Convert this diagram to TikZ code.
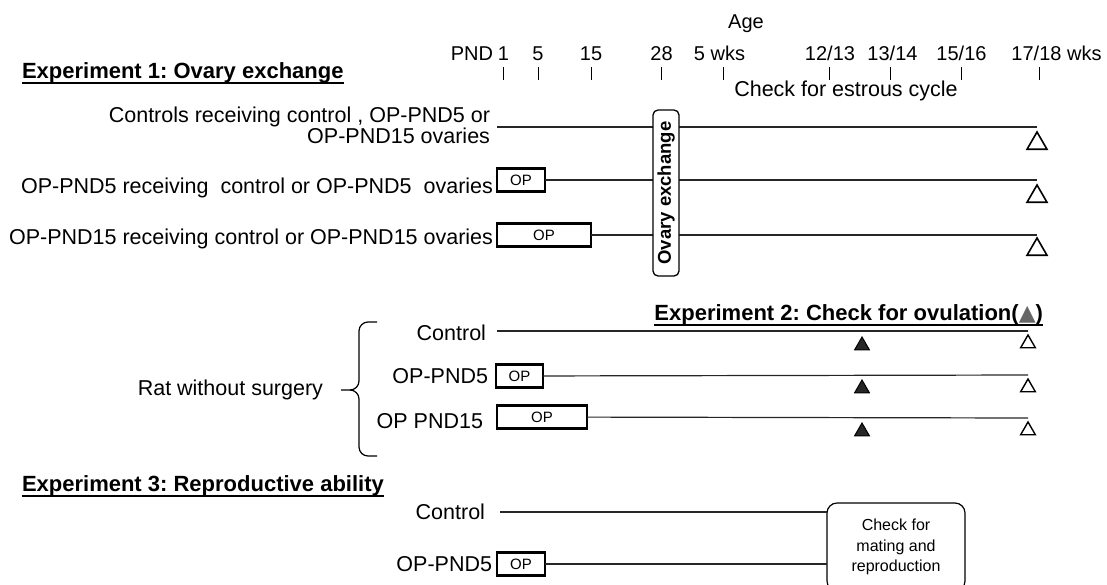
\documentclass[tikz,border=0pt]{standalone}
\usepackage{fontspec}
\setmainfont{Liberation Sans}
\newfontfamily\symfont{DejaVu Sans}
\usetikzlibrary{positioning,shapes.geometric}
\frenchspacing

\begin{document}
\begin{tikzpicture}[
    x=1pt, y=-1pt,
    every node/.style={inner sep=0pt, outer sep=0pt},
    lbl/.style={font=\fontsize{21.5}{21}\selectfont, anchor=base east},
    axislbl/.style={font=\fontsize{20}{24}\selectfont, anchor=base},
    heading/.style={font=\fontsize{22}{26}\selectfont\bfseries},
    uline/.style={line width=1.6pt},
    opbox/.style={rectangle, draw, line width=2.2pt, minimum height=23pt, anchor=west, font=\fontsize{15}{18}\selectfont},
    roundbox/.style={rectangle, draw, fill=white, align=center},
    tline/.style={line width=1.2pt, draw=black!85},
    tick/.style={line width=1pt},
    opentri/.style={regular polygon, regular polygon sides=3, draw, line width=1.6pt, anchor=north},
    filltri/.style={opentri, fill=black!85, line width=1pt},
    brc/.style={line width=1.2pt, rounded corners=9pt}
]
% Zeitachse und die drei Versuchsreihen
\useasboundingbox (0,0) rectangle (1107,584);

\node[font=\fontsize{20}{24}\selectfont] (age) at (746,24) {Age};
\node[axislbl, anchor=base east] (pnd) at (493,60) {PND};
\node[axislbl] (a1) at (503.5,60) {1};
\node[axislbl] (a5) at (538,60) {5};
\node[axislbl] (a15) at (591,60) {15};
\node[axislbl] (a28) at (661.5,60) {28};
\node[axislbl] (w5) at (719.5,60) {5 wks};
\node[axislbl] (w12) at (830,60) {12/13};
\node[axislbl] (w13) at (892.5,60) {13/14};
\node[axislbl] (w15) at (961.5,60) {15/16};
\node[axislbl] (w17) at (1056.5,60) {17/18 wks};
\draw[tick] (503,67) -- (503,80) (538,67) -- (538,80) (591,67) -- (591,80)
    (661,67) -- (661,80) (723,67) -- (723,80) (829,67) -- (829,80)
    (890,67) -- (890,80) (961,67) -- (961,80) (1039,67) -- (1039,80);

% Experiment 1
\node[heading, anchor=base west] (ex1) at (22,78) {Experiment 1: Ovary exchange};
\draw[uline] ([yshift=-0.5pt]ex1.south west) -- ([yshift=-0.5pt]ex1.south east);
\node[lbl, anchor=base] (est) at (846,96) {Check for estrous cycle};

\node[lbl, align=right, anchor=east] (r1) at (490,125) {Controls receiving control , OP-PND5 or\\OP-PND15 ovaries};
\coordinate (s1) at (497,127);
\coordinate (e1) at (1037,127);
\draw[tline] (s1) -- (e1);
\node[opentri, minimum size=23pt] (t1) at (1037,132) {};

\node[opbox, minimum width=48pt] (op2) at (497,180) {OP};
\node[lbl] (r2) at (493,193) {OP-PND5 receiving~ control or OP-PND5~ ovaries};
\coordinate (e2) at (1037,180);
\draw[tline] (op2) -- (e2);
\node[opentri, minimum size=23pt] (t2) at (1037,185) {};

\node[opbox, minimum width=94pt] (op3) at (497,235) {OP};
\node[lbl] (r3) at (493,244) {OP-PND15 receiving control or OP-PND15 ovaries};
\coordinate (e3) at (1037,235);
\draw[tline] (op3) -- (e3);
\node[opentri, minimum size=23pt] (t3) at (1037,238) {};

\node[roundbox, rotate=90, line width=1.3pt, rounded corners=5pt, minimum width=166pt, minimum height=26pt,
    font=\fontsize{18.5}{20}\selectfont\bfseries] (ox) at (666,193) {Ovary exchange};

% Experiment 2
\node[heading, anchor=base east] (ex2) at (1043,320) {Experiment 2: Check for ovulation(\textcolor{black!60}{\symfont ▲})};
\draw[uline] ([yshift=-0.5pt]ex2.south west) -- ([yshift=-0.5pt]ex2.south east);

\node[lbl] (c2) at (486,340) {Control};
\coordinate (s4) at (497,331);
\coordinate (e4) at (1028,331);
\draw[tline] (s4) -- (e4);
\node[filltri, minimum size=17pt] (f4) at (862,337) {};
\node[opentri, minimum size=17pt, line width=1.4pt] (t4) at (1028,335) {};

\node[opbox, minimum width=47pt] (op5) at (496,376) {OP};
\node[lbl] (r5) at (488,383) {OP-PND5};
\coordinate (e5) at (1028,375);
\draw[tline] (op5) -- (e5);
\node[filltri, minimum size=17pt] (f5) at (862,380) {};
\node[opentri, minimum size=17pt, line width=1.4pt] (t5) at (1028,379) {};

\node[opbox, minimum width=90pt] (op6) at (497,417) {OP};
\node[lbl] (r6) at (483,428) {OP PND15};
\coordinate (e6) at (1028,418);
\draw[tline] (op6) -- (e6);
\node[filltri, minimum size=17pt] (f6) at (862,423) {};
\node[opentri, minimum size=17pt, line width=1.4pt] (t6) at (1028,422) {};

\node[lbl] (rat) at (323,395) {Rat without surgery};
\draw[brc] (377,322) -- (359,322) -- (359,390) -- (341,390);
\draw[brc] (377,456) -- (359,456) -- (359,390) -- (350,390);

% Experiment 3
\node[heading, anchor=base west] (ex3) at (22,491) {Experiment 3: Reproductive ability};
\draw[uline] ([yshift=-0.5pt]ex3.south west) -- ([yshift=-0.5pt]ex3.south east);

\node[roundbox, line width=1.2pt, rounded corners=10pt, minimum width=138pt, minimum height=88pt, anchor=north west,
    font=\fontsize{16}{20.5}\selectfont] (chk) at (827,503) {Check for\\mating and\\reproduction};

\node[lbl] (c3) at (485,519) {Control};
\coordinate (s7) at (500,512);
\draw[tline] (s7) -- (s7 -| chk.west);

\node[opbox, minimum width=48pt] (op8) at (497,564) {OP};
\node[lbl] (r8) at (492,571) {OP-PND5};
\draw[tline] (op8) -- (op8 -| chk.west);
\end{tikzpicture}
\end{document}
